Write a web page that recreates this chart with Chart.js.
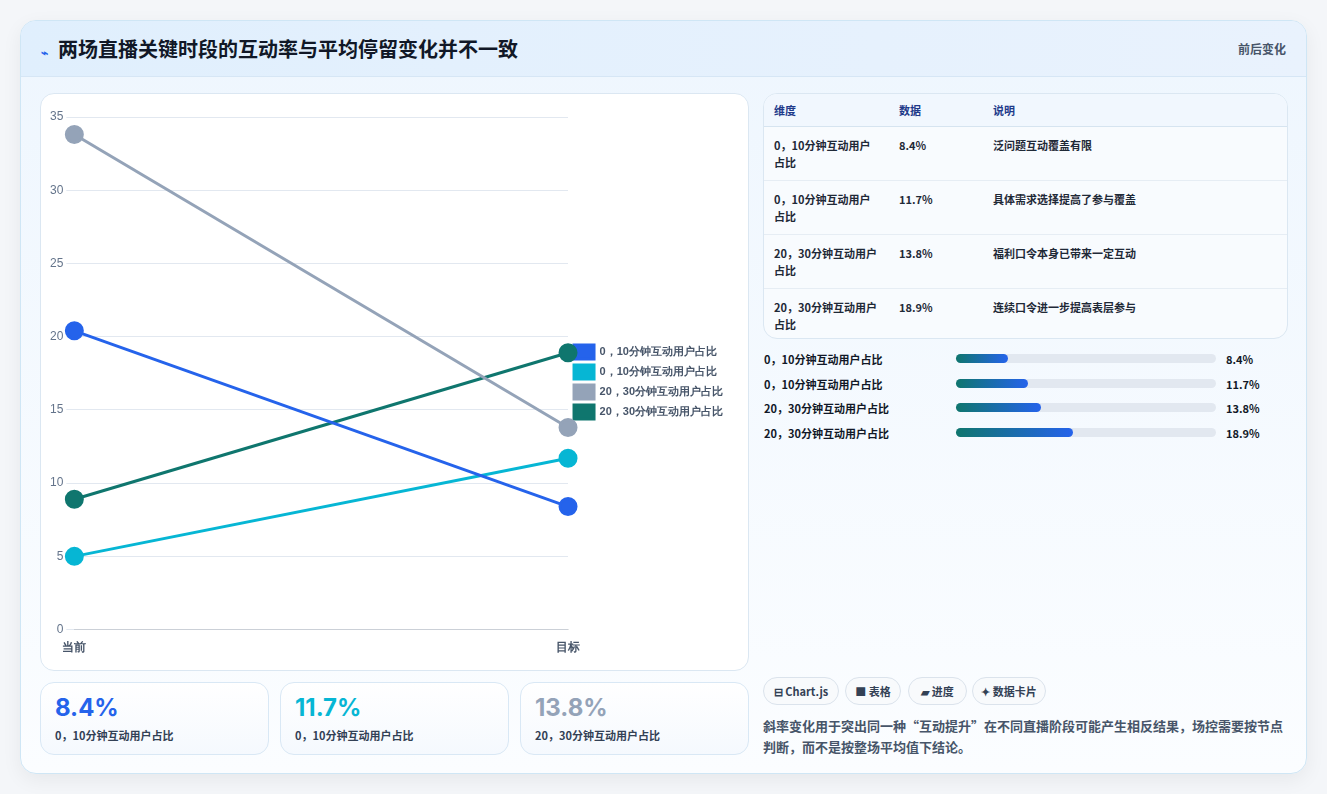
<!DOCTYPE html>
<html><head><meta charset="utf-8">
<script src="https://cdn.jsdelivr.net/npm/chart.js@4"></script>
<style>
body{margin:0;background:#f4f6f9;font-family:"Noto Sans CJK SC","Noto Sans",sans-serif;width:1327px;height:794px;overflow:hidden}
.wrap{position:absolute;left:20px;top:20px;width:1285px;height:752px;border:1px solid #cfe6f5;border-radius:16px;background:linear-gradient(180deg,#eef6fe,#fbfdff);box-shadow:0 6px 20px rgba(0,0,0,.06);overflow:hidden}
.head{height:55px;background:linear-gradient(90deg,#e0effd,#e9f2fd);border-bottom:1px solid #d6e6f5;position:relative}
.head h1{margin:0;position:absolute;left:20px;top:13px;font-size:20px;color:#111827;font-weight:700}
.head h1 span{font-size:12px;color:#2563eb;margin-right:10px}
.head .r{position:absolute;right:20px;top:19px;font-size:12px;color:#475569;font-weight:700}
.card{position:absolute;background:#fff;border:1px solid #dbe7f2;border-radius:14px}
.kpi{position:absolute;top:661px;width:227px;height:71px;border:1px solid #d9e8f5;border-radius:14px;background:linear-gradient(180deg,#fff,#f5f9fe)}
.kpi b{position:absolute;left:14px;top:10px;font-size:24px;font-family:Inter,sans-serif}
.kpi i{position:absolute;left:14px;top:44px;font-style:normal;font-size:11px;color:#334155;font-weight:700}
table{border-collapse:collapse;width:100%;font-size:11px;color:#1f2937;font-weight:700}
th{text-align:left;font-size:11px;color:#1e3a8a;background:#f1f7fe;height:32px;padding:0 10px;border-bottom:1px solid #d6e4f0}
td{vertical-align:top;padding:10px 10px 0;height:43px;border-bottom:1px solid #e6edf4;line-height:17px}
.pr{position:absolute;left:743px;font-size:11px;font-weight:700;color:#111827;width:524px;height:14px}
.pr .t{position:absolute;left:0;top:0}
.pr .bar{position:absolute;left:192px;top:3px;width:260px;height:9px;background:#e2e8f0;border-radius:5px}
.pr .f{height:9px;border-radius:5px;background:linear-gradient(90deg,#0f766e,#2563eb)}
.pr .v{position:absolute;left:462px;top:0}
.chip{position:absolute;top:656px;height:26px;border:1px solid #dbe3ec;border-radius:14px;background:#f8fafc;font-size:11px;font-weight:700;color:#334155;line-height:26px;text-align:center}
.note{position:absolute;left:742px;top:694px;width:530px;font-size:13px;color:#475569;font-weight:700;line-height:21px}
</style></head><body>
<div class="wrap">
<div class="head"><h1><span>⌁</span>两场直播关键时段的互动率与平均停留变化并不一致</h1><div class="r">前后变化</div></div>
<div class="card" style="left:19px;top:72px;width:707px;height:576px">
<div style="position:absolute;left:6px;top:12px;width:692px;height:552px"><canvas id="c"></canvas></div></div>
<div id="kpis"></div>
<div class="card" style="left:742px;top:72px;width:523px;height:244px;overflow:hidden;background:#f8fbfe">
<table><thead><tr><th style="width:105px">维度</th><th style="width:74px">数据</th><th>说明</th></tr></thead><tbody id="tb"></tbody></table></div>
<div id="prs"></div>
<div class="chip" style="left:742px;width:74px">⊟ Chart.js</div>
<div class="chip" style="left:824px;width:54px">■ 表格</div>
<div class="chip" style="left:887px;width:57px">▰ 进度</div>
<div class="chip" style="left:951px;width:72px">✦ 数据卡片</div>
<div class="note">斜率变化用于突出同一种“互动提升”在不同直播阶段可能产生相反结果，场控需要按节点判断，而不是按整场平均值下结论。</div>
</div>
<script>
const labels = ["当前", "目标"];
const names = ["0，10分钟互动用户占比", "0，10分钟互动用户占比", "20，30分钟互动用户占比", "20，30分钟互动用户占比"];
const startVals = [20.4, 5.0, 33.8, 8.9];
const endVals = [8.4, 11.7, 13.8, 18.9];
const colors = ["#2563eb", "#06b6d4", "#94a3b8", "#0f766e"];
const notes = ["泛问题互动覆盖有限", "具体需求选择提高了参与覆盖", "福利口令本身已带来一定互动", "连续口令进一步提高表层参与"];

new Chart(document.getElementById('c'), {
    type: 'line',
    data: {
        labels: labels,
        datasets: names.map((n, i) => ({
            label: n,
            data: [startVals[i], endVals[i]],
            borderColor: colors[i],
            backgroundColor: colors[i],
            borderWidth: 3,
            pointRadius: 8,
            pointHoverRadius: 8
        }))
    },
    options: {
        responsive: true,
        maintainAspectRatio: false,
        animation: false,
        layout: { padding: { right: 6 } },
        scales: {
            x: { grid: { display: false }, ticks: { color: '#475569', font: { size: 12, weight: 'bold' } } },
            y: { min: 0, max: 35, ticks: { stepSize: 5, color: '#64748b', font: { size: 12 } }, grid: { color: '#e2e8f0' }, border: { display: false } }
        },
        plugins: {
            legend: {
                position: 'right',
                labels: { boxWidth: 20, boxHeight: 14, padding: 6, color: '#475569', font: { size: 11, weight: 'bold' } }
            }
        }
    }
});

let k = '';
for (let i = 0; i < 3; i++) {
    k += `<div class="kpi" style="left:${19 + i * 240}px"><b style="color:${colors[i]}">${endVals[i].toFixed(1)}%</b><i>${names[i]}</i></div>`;
}
document.getElementById('kpis').innerHTML = k;

let rows = '', bars = '';
endVals.forEach((v, i) => {
    let n = names[i === 1 ? 1 : i];
    rows += `<tr><td>${names[i].replace('用户', '用户<br>').replace(/(^0，10分钟互动用户<br>)/, '$1')}</td><td>${v}%</td><td>${notes[i]}</td></tr>`;
    bars += `<div class="pr" style="top:${330 + i * 24.6}px"><span class="t">${names[i]}</span><div class="bar"><div class="f" style="width:${v / 42 * 100}%"></div></div><span class="v">${v}%</span></div>`;
});
document.getElementById('tb').innerHTML = rows;
document.getElementById('prs').innerHTML = bars;
</script>
</body></html>
